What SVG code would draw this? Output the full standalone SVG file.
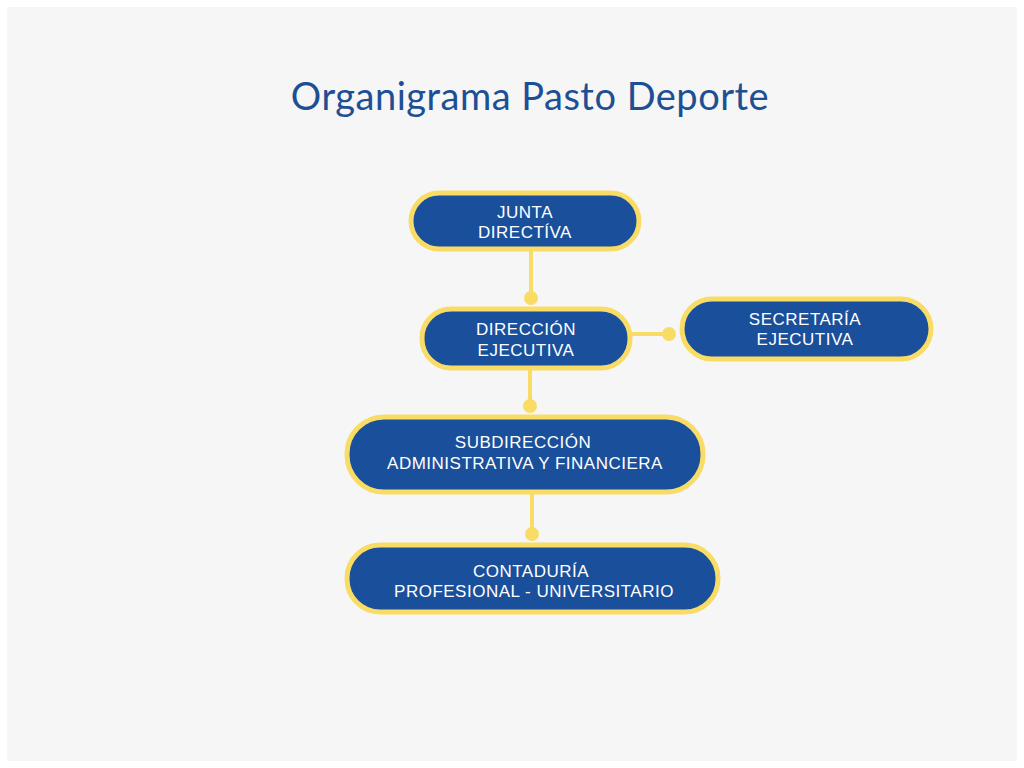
<svg xmlns="http://www.w3.org/2000/svg" width="1024" height="768" viewBox="0 0 1024 768">
<style>
.n{fill:#1a4f9c;stroke:#f8dc66;stroke-width:5}
.t{font-family:"Liberation Sans",Arial,sans-serif;font-size:17px;fill:#fff;text-anchor:middle;letter-spacing:0.5px}
.c{stroke:#f8dc66;stroke-width:4;fill:none}
.d{fill:#f8dc66}
</style>
<rect width="1024" height="768" fill="#fff"/>
<rect x="7" y="7" width="1010" height="754" fill="#f6f6f6"/>
<text x="530" y="110" font-family="Lato,'Liberation Sans',sans-serif" font-size="38" fill="#1d4f94" text-anchor="middle" letter-spacing="0.5">Organigrama Pasto Deporte</text>
<g id="connectors">
<path class="c" d="M531 250V298M530 370V406M532 494V534M631 334H669"/>
<circle class="d" cx="531" cy="298" r="7"/>
<circle class="d" cx="530" cy="406" r="7"/>
<circle class="d" cx="532" cy="534" r="7"/>
<circle class="d" cx="669" cy="334" r="7"/>
</g>
<g id="junta"><rect class="n" x="411" y="193" width="228" height="56" rx="28"/><text class="t" x="525" y="218">JUNTA</text><text class="t" x="525" y="238">DIRECTÍVA</text></g>
<g id="direccion"><rect class="n" x="422" y="309" width="208" height="59" rx="29"/><text class="t" x="526" y="335">DIRECCIÓN</text><text class="t" x="526" y="356">EJECUTIVA</text></g>
<g id="secretaria"><rect class="n" x="682" y="299" width="249" height="60" rx="30"/><text class="t" x="805" y="325">SECRETARÍA</text><text class="t" x="805" y="345">EJECUTIVA</text></g>
<g id="subdireccion"><rect class="n" x="347" y="417" width="356" height="75" rx="37"/><text class="t" x="523" y="448">SUBDIRECCIÓN</text><text class="t" x="525" y="469">ADMINISTRATIVA Y FINANCIERA</text></g>
<g id="contaduria"><rect class="n" x="347" y="545" width="371" height="67" rx="33"/><text class="t" x="531" y="577">CONTADURÍA</text><text class="t" x="534" y="597">PROFESIONAL - UNIVERSITARIO</text></g>
</svg>
